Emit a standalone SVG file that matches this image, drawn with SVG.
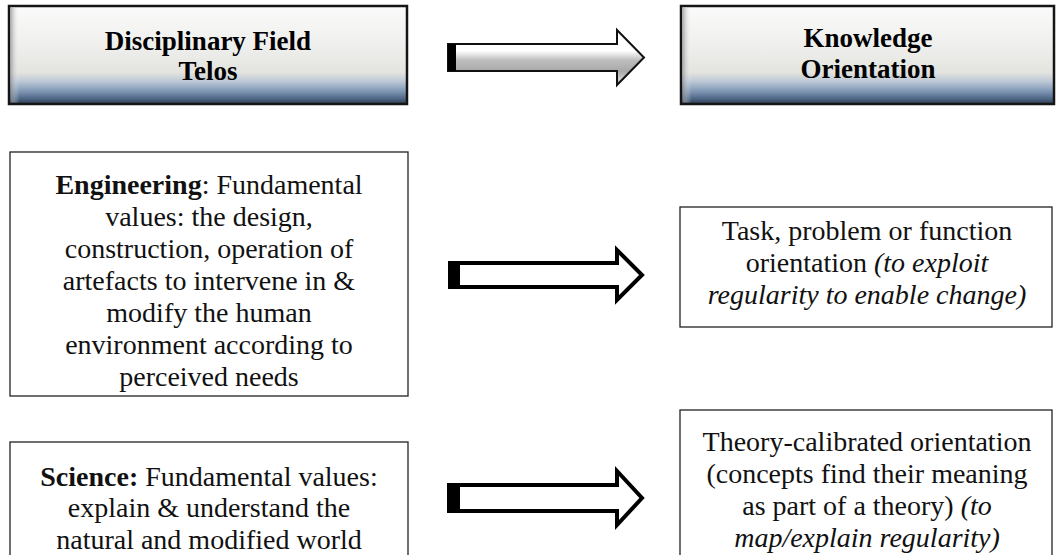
<svg xmlns="http://www.w3.org/2000/svg" width="1056" height="555" viewBox="0 0 1056 555">
<defs>
<linearGradient id="hdr" x1="0" y1="0" x2="0" y2="1">
<stop offset="0" stop-color="#fbfbfb"/>
<stop offset="0.45" stop-color="#ededeb"/>
<stop offset="0.68" stop-color="#e3e3df"/>
<stop offset="0.77" stop-color="#bcc8d6"/>
<stop offset="0.87" stop-color="#7f97b4"/>
<stop offset="0.95" stop-color="#4c6383"/>
<stop offset="1" stop-color="#2f3b4e"/>
</linearGradient>
<linearGradient id="bevL" x1="0" y1="0" x2="1" y2="0">
<stop offset="0" stop-color="#8a8a8a" stop-opacity="0.7"/>
<stop offset="1" stop-color="#ffffff" stop-opacity="0"/>
</linearGradient>
<linearGradient id="arr" x1="0" y1="0" x2="0" y2="1">
<stop offset="0" stop-color="#ffffff"/>
<stop offset="0.38" stop-color="#ffffff"/>
<stop offset="0.55" stop-color="#bdbdbd"/>
<stop offset="0.75" stop-color="#a9a9a9"/>
<stop offset="0.9" stop-color="#d0d0d0"/>
<stop offset="1" stop-color="#8c8c8c"/>
</linearGradient>
<style>
.hb{fill:url(#hdr);stroke:#151515;stroke-width:2.5}
.bx{fill:#ffffff;stroke:#222222;stroke-width:1.3}
.ht{font-family:"Liberation Serif","Times New Roman",serif;font-weight:bold;font-size:27px;fill:#000;text-anchor:middle}
.t{font-family:"Liberation Serif","Times New Roman",serif;font-size:28px;fill:#111;text-anchor:middle}
.b{font-weight:bold}
.i{font-style:italic}
.ao{fill:#ffffff;stroke:#000;stroke-width:4;stroke-linejoin:miter}
.ag{fill:url(#arr);stroke:#111;stroke-width:2}
</style>
</defs>
<g id="header-left">
<rect class="hb" x="9" y="6" width="398" height="98"/>
<rect x="10.5" y="7.5" width="9" height="95" fill="url(#bevL)"/>
<text class="ht" x="208" y="50">Disciplinary Field</text>
<text class="ht" x="208" y="80">Telos</text>
</g>
<g id="header-right">
<rect class="hb" x="681" y="6" width="373" height="98"/>
<rect x="682.5" y="7.5" width="9" height="95" fill="url(#bevL)"/>
<text class="ht" x="868" y="47">Knowledge</text>
<text class="ht" x="868" y="78">Orientation</text>
</g>
<g id="engineering">
<rect class="bx" x="10" y="152" width="398" height="244"/>
<text class="t" x="209" y="194"><tspan class="b">Engineering</tspan>: Fundamental</text>
<text class="t" x="209" y="226">values: the design,</text>
<text class="t" x="209" y="258">construction, operation of</text>
<text class="t" x="209" y="290">artefacts to intervene in &amp;</text>
<text class="t" x="209" y="322">modify the human</text>
<text class="t" x="209" y="354">environment according to</text>
<text class="t" x="209" y="386">perceived needs</text>
</g>
<g id="task">
<rect class="bx" x="680" y="207" width="372" height="120"/>
<text class="t" x="867" y="240">Task, problem or function</text>
<text class="t" x="867" y="272">orientation <tspan class="i">(to exploit</tspan></text>
<text class="t" x="867" y="304"><tspan class="i">regularity to enable change)</tspan></text>
</g>
<g id="science">
<rect class="bx" x="10" y="442" width="398" height="140"/>
<text class="t" x="209" y="486"><tspan class="b">Science:</tspan> Fundamental values:</text>
<text class="t" x="209" y="517">explain &amp; understand the</text>
<text class="t" x="209" y="549">natural and modified world</text>
</g>
<g id="theory">
<rect class="bx" x="680" y="410" width="372" height="170"/>
<text class="t" x="867" y="451">Theory-calibrated orientation</text>
<text class="t" x="867" y="483">(concepts find their meaning</text>
<text class="t" x="867" y="515">as part of a theory) <tspan class="i">(to</tspan></text>
<text class="t" x="867" y="547"><tspan class="i">map/explain regularity)</tspan></text>
</g>
<g id="connectors">
<path class="ag" d="M448,44 L617,44 L617,30 L644,57.5 L617,85 L617,71 L448,71 Z"/>
<rect x="448" y="44" width="8" height="27" fill="#000"/>
<path class="ao" d="M450,263 L617,263 L617,250 L642,275 L617,300 L617,287 L450,287 Z"/>
<rect x="448" y="261" width="12" height="28" fill="#000"/>
<path class="ao" d="M450,485 L617,485 L617,471 L642,498 L617,525 L617,511 L450,511 Z"/>
<rect x="447" y="483" width="13" height="30" fill="#000"/>
</g>
</svg>
